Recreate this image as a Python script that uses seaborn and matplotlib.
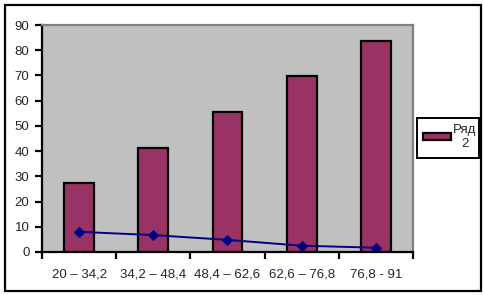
import matplotlib
matplotlib.use("Agg")
import matplotlib.pyplot as plt
import seaborn as sns
from matplotlib.patches import Rectangle

categories = ["20 – 34,2", "34,2 – 48,4", "48,4 – 62,6", "62,6 – 76,8", "76,8 - 91"]
bar_values = [27.4, 41.2, 55.5, 69.9, 83.7]
line_values = [8.0, 6.7, 4.8, 2.5, 1.7]
series_label = "Ряд\n2"
yticks = [0, 10, 20, 30, 40, 50, 60, 70, 80, 90]

sns.set_style("white")
plt.rcParams["font.family"] = ["Liberation Sans", "DejaVu Sans"]
FS = 9.5

fig = plt.figure(figsize=(4.85, 2.95), dpi=100)
ax = fig.add_axes([42/485, 1-252/295, (413-42)/485, (252-25)/295])
ax.set_facecolor("#C0C0C0")

sns.barplot(x=categories, y=bar_values, color="#993366", edgecolor="black",
            linewidth=1.6, width=0.4, saturation=1, ax=ax)
sns.lineplot(x=categories, y=line_values, sort=False, color="#000080",
             marker="D", markersize=5, markeredgecolor="#000080",
             linewidth=1.4, ax=ax, legend=False)

ax.set_xlim(-0.5, len(categories) - 0.5)
ax.set_ylim(0, 90)
ax.set_yticks(yticks)
ax.set_xlabel("")
ax.set_ylabel("")

for s in ["left", "bottom"]:
    ax.spines[s].set_color("black")
    ax.spines[s].set_linewidth(1.6)
for s in ["top", "right"]:
    ax.spines[s].set_color("#808080")
    ax.spines[s].set_linewidth(1.6)

ax.tick_params(axis="y", which="major", direction="out", length=5, width=1.6,
               labelsize=FS, pad=4, color="black", left=True)
ax.tick_params(axis="x", which="major", length=0, labelsize=FS, pad=12)
ax.set_xticks([i - 0.5 for i in range(len(categories) + 1)], minor=True)
ax.tick_params(axis="x", which="minor", direction="out", length=5, width=1.6,
               color="black", bottom=True)

leg = fig.legend(handles=ax.patches[:1], labels=[series_label],
                 loc="upper left", bbox_to_anchor=(417/485, 1-118/295),
                 bbox_transform=fig.transFigure, fontsize=FS,
                 frameon=False, borderpad=0.45,
                 handlelength=2.1, handleheight=0.5, handletextpad=0.2,
                 borderaxespad=0)
for t in leg.get_texts():
    t.set_multialignment("center")

# legend frame
fig.patches.append(Rectangle((417/485, 1-158/295), (479-417)/485, (158-118)/295,
                             transform=fig.transFigure, fill=False,
                             edgecolor="black", linewidth=1.4))
# outer chart border
fig.patches.append(Rectangle((5/485, 1-291/295), (481-5)/485, (291-5)/295,
                             transform=fig.transFigure, fill=False,
                             edgecolor="black", linewidth=1.6))

fig.savefig("out.png", dpi=100)
